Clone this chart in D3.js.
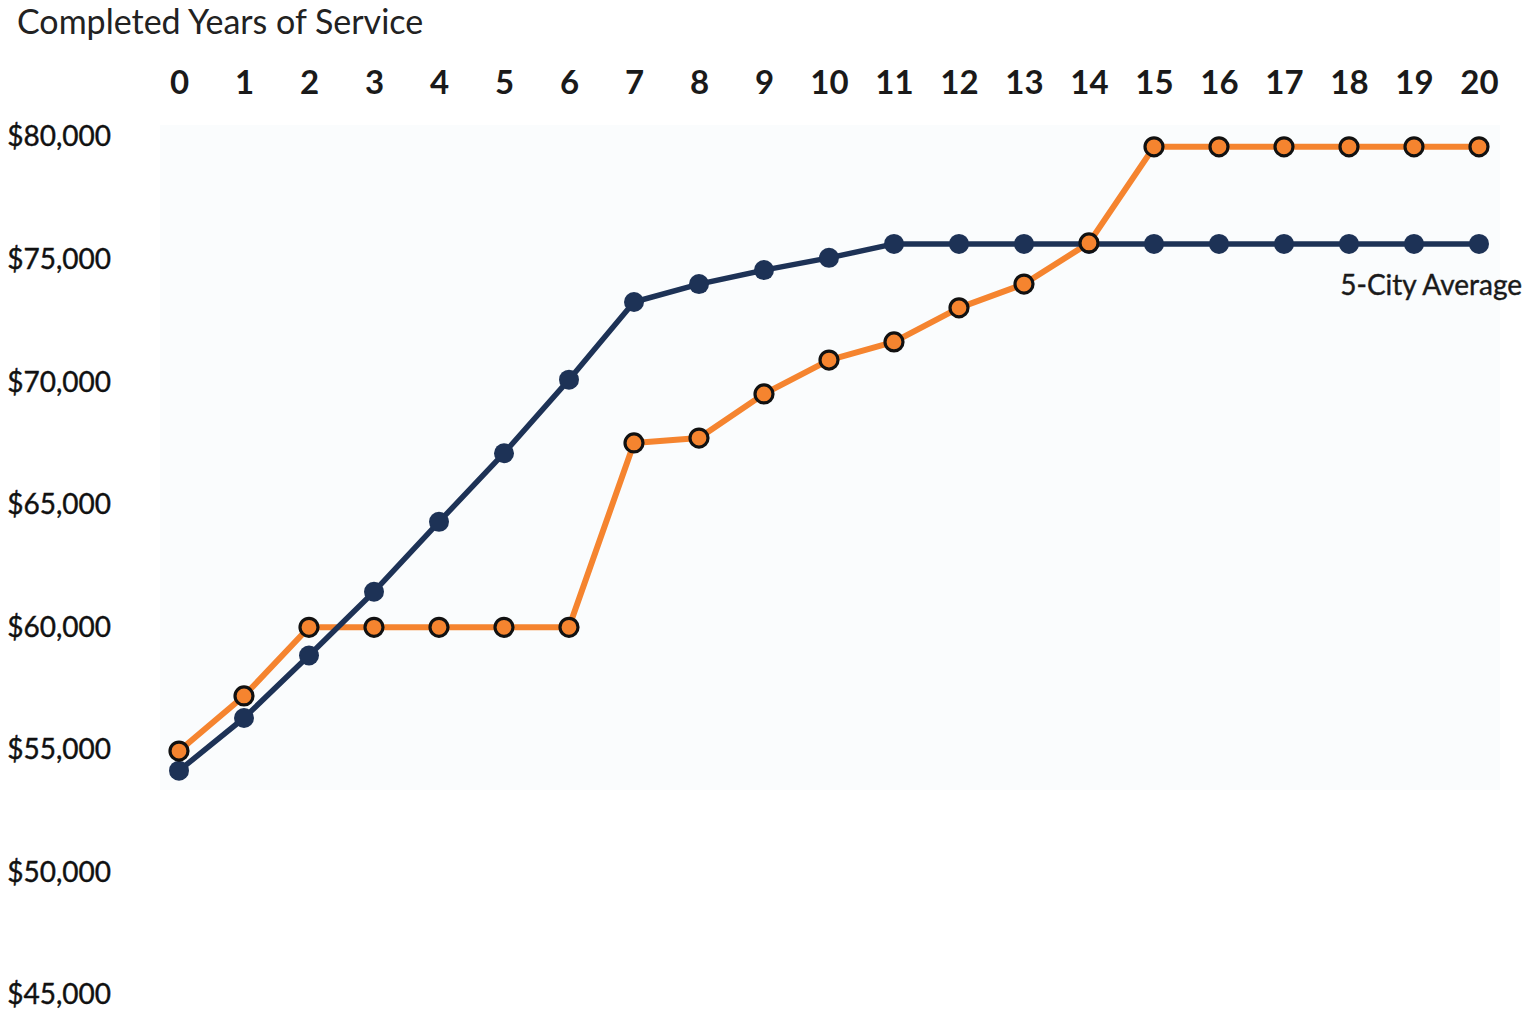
<!DOCTYPE html>
<html><head><meta charset="utf-8">
<script src="https://cdn.jsdelivr.net/npm/d3@7"></script>
<style>body{margin:0;background:#fff}svg{display:block}text{font-family:Lato,"Open Sans",sans-serif}</style>
</head><body>
<svg id="c" width="1534" height="1013"></svg>
<script>
const years = d3.range(0, 21);
const yearLabels = years.map(String);
const avgValues = [54150, 56300, 58850, 61450, 64300, 67100, 70100, 73270, 74000, 74570, 75070, 75640, 75640, 75640, 75640, 75640, 75640, 75640, 75640, 75640, 75640];
const cityValues = [54950, 57200, 60000, 60000, 60000, 60000, 60000, 67520, 67720, 69520, 70900, 71640, 73030, 74000, 75680, 79600, 79600, 79600, 79600, 79600, 79600];
const yTicks = [45000, 50000, 55000, 60000, 65000, 70000, 75000, 80000];
const xTitle = "Completed Years of Service";
const avgLabel = "5-City Average";

const svg = d3.select("#c");
const x = d3.scaleLinear().domain([0, 20]).range([179, 1479]);
const y = d3.scaleLinear().domain([45000, 80000]).range([995, 137]);

// faint plot background
svg.append("rect").attr("x", 160).attr("y", 125).attr("width", 1340).attr("height", 665)
  .attr("fill", "#fafcfd");

// title
svg.append("text").attr("x", 17).attr("y", 34).attr("font-size", 34).attr("fill", "#222").text(xTitle);

// x axis labels
const xAxis = d3.axisTop(x).tickValues(years).tickFormat(d => yearLabels[d]).tickSize(0).tickPadding(0);
const gx = svg.append("g").attr("transform", "translate(0,94)").call(xAxis);
gx.select(".domain").remove();
gx.selectAll("text").attr("font-size", 33).attr("font-weight", "bold").attr("fill", "#1a1a1a").attr("font-family", "Lato, 'Open Sans', sans-serif");

// y axis labels
const yAxis = d3.axisLeft(y).tickValues(yTicks).tickFormat(d => "$" + d3.format(",")(d)).tickSize(0).tickPadding(0);
const gy = svg.append("g").attr("transform", "translate(111,0)").call(yAxis);
gy.select(".domain").remove();
gy.selectAll("text").attr("font-size", 28).attr("fill", "#111").attr("font-family", "Lato, 'Open Sans', sans-serif")
  .attr("stroke", "#111").attr("stroke-width", 0.4);

const line = d3.line().x((d, i) => x(years[i])).y(d => y(d));

// orange series
svg.append("path").datum(cityValues).attr("d", line).attr("fill", "none")
  .attr("stroke", "#f5842f").attr("stroke-width", 6).attr("stroke-linejoin", "round");
// navy series
svg.append("path").datum(avgValues).attr("d", line).attr("fill", "none")
  .attr("stroke", "#1d3256").attr("stroke-width", 5.5).attr("stroke-linejoin", "round");

svg.append("g").selectAll("circle").data(avgValues).join("circle")
  .attr("cx", (d, i) => x(years[i])).attr("cy", d => y(d)).attr("r", 10).attr("fill", "#1d3256");

svg.append("g").selectAll("circle").data(cityValues).join("circle")
  .attr("cx", (d, i) => x(years[i])).attr("cy", d => y(d)).attr("r", 9)
  .attr("fill", "#f5842f").attr("stroke", "#111").attr("stroke-width", 3.2);

svg.append("text").attr("x", 1522).attr("y", 295).attr("text-anchor", "end")
  .attr("font-size", 28).attr("fill", "#1a1a1a").attr("stroke", "#1a1a1a").attr("stroke-width", 0.4).text(avgLabel);
</script>
</body></html>
